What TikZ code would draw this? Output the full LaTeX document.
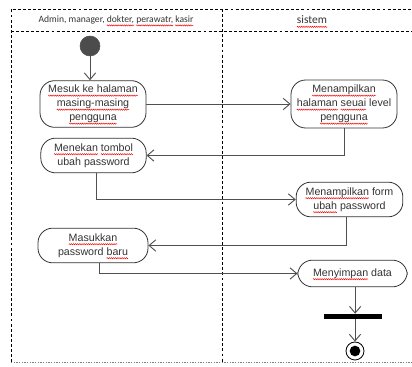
\documentclass[tikz,border=0pt]{standalone}
\usepackage{fontspec}
\setmainfont{Liberation Sans}
\newfontfamily\hdrfont{Carlito}
\usetikzlibrary{arrows.meta,decorations.pathmorphing}
\newsavebox\rwbox
\newcommand\rw[1]{\sbox\rwbox{#1}\leavevmode\rlap{\usebox\rwbox}\tikz[baseline=0pt]{\useasboundingbox (0pt,0pt) rectangle (\the\wd\rwbox,0pt); \draw[red, line width=0.35pt, sharp corners, solid, decorate, decoration={zigzag, amplitude=0.45pt, segment length=1.6pt}] (0pt,-2.2pt) -- (\the\wd\rwbox,-2.2pt);}}
\definecolor{lnc}{HTML}{505050}
\definecolor{txc}{HTML}{333333}
\tikzset{
  act/.style={draw=black!80, line width=0.6pt, rounded corners=11pt, align=center,
    font=\fontsize{8}{10.5}\selectfont, text=txc, inner sep=1pt},
  flow/.style={draw=lnc, line width=0.7pt, -{Straight Barb[length=5pt,width=8.5pt]}},
  frame/.style={draw=black, line width=0.5pt, dash pattern=on 2.2pt off 1.6pt},
}
\begin{document}
\begin{tikzpicture}[x=0.75pt,y=-0.75pt]
\useasboundingbox (0,0) rectangle (412,367);
% frame
\draw[frame] (11,362) -- (11,9) -- (412,9);
\draw[frame] (11,31) -- (412,31);
\draw[frame] (222,9) -- (222,362);
\draw[draw=black!50, line width=0.5pt, dash pattern=on 1pt off 1pt] (11,362) -- (412,362);
% headers
\node[font=\hdrfont\fontsize{7.2}{8}\selectfont, text=txc] (h1) at (116,20) {Admin, manager, \rw{dokter,} \rw{perawatr,} \rw{kasir}};
\node[font=\hdrfont\fontsize{8.6}{9}\selectfont, text=txc] (h2) at (312,20) {\rw{sistem}};
% start
\node[circle, draw=black!70, fill=black!70, minimum size=15pt, inner sep=0pt] (s) at (90,46) {};
% activities
\node[act, minimum width=79.5pt, minimum height=35pt] (n1) at (93,104) {\rw{Mesuk ke halaman}\\ \rw{masing-masing}\\ \rw{pengguna}};
\node[act, minimum width=79.5pt, minimum height=36pt] (n3) at (344,104) {\rw{Menampilkan}\\ \rw{halaman} \rw{seuai} level\\ \rw{pengguna}};
\node[act, minimum width=79pt, minimum height=26pt] (n2) at (93.5,155.5) {\rw{Menekan} \rw{tombol}\\ ubah password};
\node[act, minimum width=80pt, minimum height=26pt] (n4) at (349.5,199.5) {\rw{Menampilkan} form\\ \rw{ubah} password};
\node[act, minimum width=82.5pt, minimum height=26pt] (n5) at (93,245.5) {\rw{Masukkan}\\ password \rw{baru}};
\node[act, minimum width=82pt, minimum height=20pt] (n6) at (352.5,273.5) {\rw{Menyimpan} data};
% bar and end
\node[fill=black, minimum width=43.5pt, minimum height=3.75pt, inner sep=0pt] (bar) at (353,316.5) {};
\node[circle, draw=black, line width=0.6pt, fill=white, minimum size=13.5pt, inner sep=0pt] (e) at (355,351) {};
\node[circle, fill=black, minimum size=8pt, inner sep=0pt] (ei) at (e) {};
% flows
\draw[flow] (s.south) -- (s.south |- n1.north);
\draw[flow] (n1.east) -- (n3.west);
\draw[flow] (n3.south) |- (n2.east);
\draw[flow] ([xshift=2.25pt]n2.south) |- (n4.west);
\draw[flow] ([xshift=-2.6pt]n4.south) |- (n5.east);
\draw[flow] ([xshift=4.5pt]n5.south) |- (n6.west);
\draw[flow] ([xshift=2pt]n6.south) -- ([xshift=2pt]n6.south |- bar.north);
\draw[flow] (bar.south -| e) -- (e.north);
\end{tikzpicture}
\end{document}
